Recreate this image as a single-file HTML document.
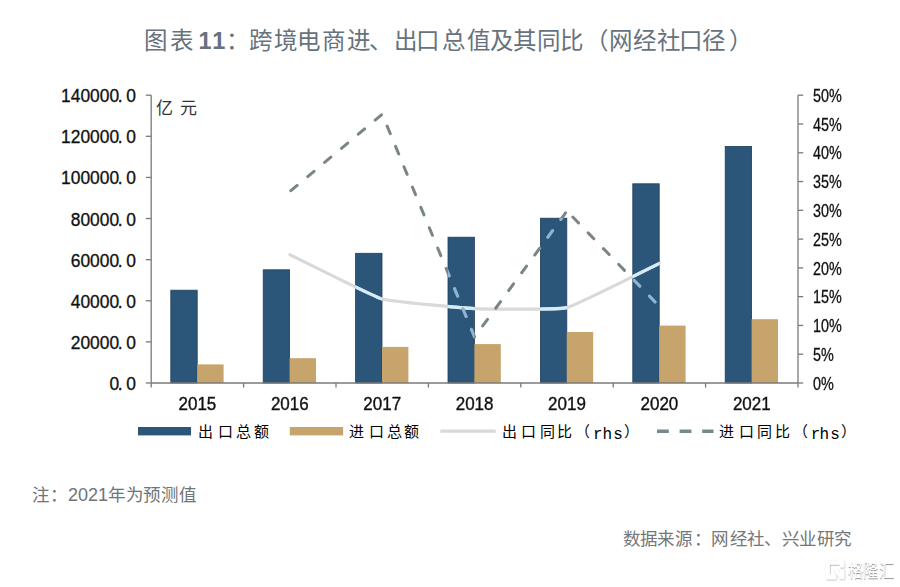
<!DOCTYPE html>
<html lang="zh-CN"><head><meta charset="utf-8"><title>chart</title>
<style>
html,body{margin:0;padding:0;background:#fff;}
body{width:900px;height:587px;position:relative;overflow:hidden;font-family:"Liberation Sans",sans-serif;}
svg{position:absolute;left:0;top:0;}
.bb{fill:#2b5679;stroke:#1e3e5e;stroke-width:0.8;}
.gb{fill:#c6a46b;}
.ax line,.ax path{stroke:#7a7a7a;stroke-width:1.3;fill:none;}
.c{display:inline-block;width:1em;text-align:center;letter-spacing:0;}
.title{position:absolute;left:0;top:25.7px;width:900px;height:30px;font-size:23.5px;line-height:normal;color:#66727d;white-space:nowrap;font-weight:500;}
.title span{position:absolute;top:0;line-height:30px;}
.wm{position:absolute;left:0;top:560px;width:900px;height:22px;font-size:18px;line-height:22px;color:#fff;font-weight:500;text-shadow:0.3px 0.5px 1px rgba(0,0,0,0.45);}
.wm span{position:absolute;top:0;width:1em;text-align:center;transform:scaleX(0.86);transform-origin:0 50%;}
.unit span,.lg span,.note span,.src span{position:absolute;top:0;white-space:nowrap;}
.ca{width:1em;text-align:center;}
.title .num{letter-spacing:1.8px;font-weight:bold;}
.yl{position:absolute;right:764px;font-size:17.4px;line-height:20px;color:#111;-webkit-text-stroke:0.3px #111;white-space:nowrap;transform:translateY(0.6px) scaleY(1.08);}
.yl .sp{margin-left:2.4px;}
.yl .dt{position:relative;left:-1.4px;}
.yr{position:absolute;left:813px;margin-top:0.7px;font-size:17.5px;line-height:20px;color:#111;-webkit-text-stroke:0.3px #111;white-space:nowrap;transform:scaleX(0.82);transform-origin:0 50%;}
.xl{position:absolute;top:395px;width:60px;text-align:center;font-size:17px;line-height:20px;color:#111;-webkit-text-stroke:0.35px #111;transform:scaleY(1.08);}
.unit{position:absolute;left:0;top:98.6px;width:300px;height:20px;font-size:17px;line-height:20px;color:#333;}
.lg{position:absolute;left:0;top:422.2px;width:900px;height:20px;font-size:15px;line-height:20px;color:#000;font-weight:500;}
.lg .m{font-size:16px;font-weight:normal;top:2.6px;}
.m{font-family:"Liberation Mono",monospace;}
.note{position:absolute;left:0;top:484.5px;width:300px;height:20px;font-size:17.5px;line-height:20px;color:#6f7478;}
.note .num{font-size:18px;}
.src{position:absolute;left:0;top:528.5px;width:900px;height:20px;font-size:17.5px;line-height:20px;color:#767676;}
</style></head>
<body>
<div class="title"><span class="ca" style="left:143.8px">图</span><span class="ca" style="left:169.6px">表</span><span class="ca" style="left:225.4px">：</span><span class="ca" style="left:248.7px">跨</span><span class="ca" style="left:273.9px">境</span><span class="ca" style="left:297.2px">电</span><span class="ca" style="left:321.9px">商</span><span class="ca" style="left:346.8px">进</span><span class="ca" style="left:368.4px">、</span><span class="ca" style="left:393.3px">出</span><span class="ca" style="left:416.0px">口</span><span class="ca" style="left:441.8px">总</span><span class="ca" style="left:466.7px">值</span><span class="ca" style="left:489.4px">及</span><span class="ca" style="left:513.1px">其</span><span class="ca" style="left:537.0px">同</span><span class="ca" style="left:559.7px">比</span><span class="ca" style="left:584.4px">（</span><span class="ca" style="left:608.3px">网</span><span class="ca" style="left:633.0px">经</span><span class="ca" style="left:656.8px">社</span><span class="ca" style="left:678.6px">口</span><span class="ca" style="left:702.1px">径</span><span class="ca" style="left:729.2px">）</span><span class="num" style="left:198.6px">11</span></div>
<svg width="900" height="587" viewBox="0 0 900 587">
<defs><clipPath id="cb"><rect x="170.80" y="290.20" width="26.40" height="92.80"/><rect x="263.20" y="269.80" width="26.40" height="113.20"/><rect x="355.60" y="253.30" width="26.40" height="129.70"/><rect x="448.00" y="237.20" width="26.40" height="145.80"/><rect x="540.40" y="218.20" width="26.40" height="164.80"/><rect x="632.80" y="183.80" width="26.40" height="199.20"/><rect x="725.20" y="146.40" width="26.40" height="236.60"/></clipPath></defs>
<rect x="170.80" y="290.20" width="26.40" height="92.80" class="bb"/>
<rect x="197.20" y="364.40" width="26.40" height="18.60" class="gb"/>
<rect x="263.20" y="269.80" width="26.40" height="113.20" class="bb"/>
<rect x="289.60" y="358.20" width="26.40" height="24.80" class="gb"/>
<rect x="355.60" y="253.30" width="26.40" height="129.70" class="bb"/>
<rect x="382.00" y="346.90" width="26.40" height="36.10" class="gb"/>
<rect x="448.00" y="237.20" width="26.40" height="145.80" class="bb"/>
<rect x="474.40" y="344.10" width="26.40" height="38.90" class="gb"/>
<rect x="540.40" y="218.20" width="26.40" height="164.80" class="bb"/>
<rect x="566.80" y="332.00" width="26.40" height="51.00" class="gb"/>
<rect x="632.80" y="183.80" width="26.40" height="199.20" class="bb"/>
<rect x="659.20" y="325.60" width="26.40" height="57.40" class="gb"/>
<rect x="725.20" y="146.40" width="26.40" height="236.60" class="bb"/>
<rect x="751.60" y="319.20" width="26.40" height="63.80" class="gb"/>
<g class="ax">
<line x1="151.20" y1="95.20" x2="151.20" y2="383.00"/>
<line x1="798.00" y1="95.20" x2="798.00" y2="383.00"/>
<line x1="151.20" y1="383.00" x2="798.00" y2="383.00"/>
<line x1="145.8" y1="383.00" x2="151.20" y2="383.00"/>
<line x1="145.8" y1="341.89" x2="151.20" y2="341.89"/>
<line x1="145.8" y1="300.77" x2="151.20" y2="300.77"/>
<line x1="145.8" y1="259.66" x2="151.20" y2="259.66"/>
<line x1="145.8" y1="218.54" x2="151.20" y2="218.54"/>
<line x1="145.8" y1="177.43" x2="151.20" y2="177.43"/>
<line x1="145.8" y1="136.31" x2="151.20" y2="136.31"/>
<line x1="145.8" y1="95.20" x2="151.20" y2="95.20"/>
<line x1="798.00" y1="383.00" x2="803.2" y2="383.00"/>
<line x1="798.00" y1="354.22" x2="803.2" y2="354.22"/>
<line x1="798.00" y1="325.44" x2="803.2" y2="325.44"/>
<line x1="798.00" y1="296.66" x2="803.2" y2="296.66"/>
<line x1="798.00" y1="267.88" x2="803.2" y2="267.88"/>
<line x1="798.00" y1="239.10" x2="803.2" y2="239.10"/>
<line x1="798.00" y1="210.32" x2="803.2" y2="210.32"/>
<line x1="798.00" y1="181.54" x2="803.2" y2="181.54"/>
<line x1="798.00" y1="152.76" x2="803.2" y2="152.76"/>
<line x1="798.00" y1="123.98" x2="803.2" y2="123.98"/>
<line x1="798.00" y1="95.20" x2="803.2" y2="95.20"/>
<line x1="151.20" y1="383.00" x2="151.20" y2="387.6"/>
<line x1="243.60" y1="383.00" x2="243.60" y2="387.6"/>
<line x1="336.00" y1="383.00" x2="336.00" y2="387.6"/>
<line x1="428.40" y1="383.00" x2="428.40" y2="387.6"/>
<line x1="520.80" y1="383.00" x2="520.80" y2="387.6"/>
<line x1="613.20" y1="383.00" x2="613.20" y2="387.6"/>
<line x1="705.60" y1="383.00" x2="705.60" y2="387.6"/>
<line x1="798.00" y1="383.00" x2="798.00" y2="387.6"/>
</g>
<path d="M289.80,254.60 C294.42,256.82 372.96,296.30 382.20,299.00 C391.44,301.70 465.36,308.27 474.60,308.70 C483.84,309.13 557.76,309.87 567.00,307.60 C576.24,305.34 654.78,265.61 659.40,263.40" fill="none" stroke="#d9d9d9" stroke-width="3.2" stroke-linecap="round"/>
<path d="M289.80,254.60 C294.42,256.82 372.96,296.30 382.20,299.00 C391.44,301.70 465.36,308.27 474.60,308.70 C483.84,309.13 557.76,309.87 567.00,307.60 C576.24,305.34 654.78,265.61 659.40,263.40" fill="none" stroke="#d3ecf8" stroke-width="3.2" clip-path="url(#cb)"/>
<g fill="none" stroke-width="3" stroke-dasharray="8.2 13.8" stroke-linecap="round">
<path d="M289.80,191.60 L382.20,114.20 L474.60,337.00 L567.00,211.00" stroke="#7a8587" stroke-dashoffset="-1.4"/>
<path d="M567.00,211.00 L659.40,306.40" stroke="#7a8587" stroke-dashoffset="13.6"/>
<g clip-path="url(#cb)" stroke="#8fb3d3"><path d="M289.80,191.60 L382.20,114.20 L474.60,337.00 L567.00,211.00" stroke-dashoffset="-1.4"/><path d="M567.00,211.00 L659.40,306.40" stroke-dashoffset="13.6"/></g>
</g>
<rect x="138" y="427" width="53" height="8.4" fill="#2b5679"/>
<rect x="289.8" y="427" width="53.3" height="8.4" fill="#c6a46b"/>
<line x1="440.3" y1="431.1" x2="495.8" y2="431.1" stroke="#d9d9d9" stroke-width="3.2"/>
<defs><filter id="ds" x="-20%" y="-20%" width="140%" height="140%"><feDropShadow dx="0.4" dy="0.6" stdDeviation="0.7" flood-color="#000" flood-opacity="0.45"/></filter></defs>
<g filter="url(#ds)" fill="#fff">
<path d="M828,560.3 H842.2 Q844.4,560.3 844.4,562.5 V567.6 H839.9 V564.8 H829.9 V574.6 H836.2 V579.6 H828 Q825.8,579.6 825.8,577.4 V562.5 Q825.8,560.3 828,560.3 Z"/>
<path d="M839.9,569.6 H844.4 V579.6 H843.2 L838.6,575.2 V574.6 H839.9 Z"/>
<path d="M833.6,569.6 H837.8 L843.6,578.6 L840.4,579.6 Z"/>
</g>
<path d="M657,431.2 H713.5" stroke="#76898c" stroke-width="3.4" stroke-dasharray="11.8 10.8"/>
</svg>
<div class="yl" style="top:373.00px">0<span class="dt">.</span><span class="sp">0</span></div>
<div class="yl" style="top:331.89px">20000<span class="dt">.</span><span class="sp">0</span></div>
<div class="yl" style="top:290.77px">40000<span class="dt">.</span><span class="sp">0</span></div>
<div class="yl" style="top:249.66px">60000<span class="dt">.</span><span class="sp">0</span></div>
<div class="yl" style="top:208.54px">80000<span class="dt">.</span><span class="sp">0</span></div>
<div class="yl" style="top:167.43px">100000<span class="dt">.</span><span class="sp">0</span></div>
<div class="yl" style="top:126.31px">120000<span class="dt">.</span><span class="sp">0</span></div>
<div class="yl" style="top:85.20px">140000<span class="dt">.</span><span class="sp">0</span></div>
<div class="yr" style="top:373.00px">0%</div>
<div class="yr" style="top:344.22px">5%</div>
<div class="yr" style="top:315.44px">10%</div>
<div class="yr" style="top:286.66px">15%</div>
<div class="yr" style="top:257.88px">20%</div>
<div class="yr" style="top:229.10px">25%</div>
<div class="yr" style="top:200.32px">30%</div>
<div class="yr" style="top:171.54px">35%</div>
<div class="yr" style="top:142.76px">40%</div>
<div class="yr" style="top:113.98px">45%</div>
<div class="yr" style="top:85.20px">50%</div>
<div class="xl" style="left:167.40px">2015</div>
<div class="xl" style="left:259.80px">2016</div>
<div class="xl" style="left:352.20px">2017</div>
<div class="xl" style="left:444.60px">2018</div>
<div class="xl" style="left:537.00px">2019</div>
<div class="xl" style="left:629.40px">2020</div>
<div class="xl" style="left:721.80px">2021</div>
<div class="unit"><span class="ca" style="left:155.9px">亿</span><span class="ca" style="left:179.7px">元</span></div>
<div class="lg"><span class="ca" style="left:197.7px">出</span><span class="ca" style="left:217.9px">口</span><span class="ca" style="left:235.9px">总</span><span class="ca" style="left:253.6px">额</span><span class="ca" style="left:349.4px">进</span><span class="ca" style="left:368.6px">口</span><span class="ca" style="left:386.7px">总</span><span class="ca" style="left:404.4px">额</span><span class="ca" style="left:502.2px">出</span><span class="ca" style="left:521.3px">口</span><span class="ca" style="left:539.5px">同</span><span class="ca" style="left:557.3px">比</span><span class="ca" style="left:574.9px">（</span><span class="m" style="left:593.0px">r</span><span class="m" style="left:602.6px">h</span><span class="m" style="left:613.2px">s</span><span class="ca" style="left:624.4px">）</span><span class="ca" style="left:719.0px">进</span><span class="ca" style="left:738.9px">口</span><span class="ca" style="left:757.3px">同</span><span class="ca" style="left:775.0px">比</span><span class="ca" style="left:792.7px">（</span><span class="m" style="left:810.8px">r</span><span class="m" style="left:819.6px">h</span><span class="m" style="left:830.2px">s</span><span class="ca" style="left:841.4px">）</span></div>
<div class="note"><span class="ca" style="left:32.0px">注</span><span class="ca" style="left:49.6px">：</span><span class="num" style="left:67.9px">2021</span><span class="ca" style="left:107.4px">年</span><span class="ca" style="left:125.7px">为</span><span class="ca" style="left:142.9px">预</span><span class="ca" style="left:160.7px">测</span><span class="ca" style="left:179.0px">值</span></div>
<div class="src"><span class="ca" style="left:622.3px">数</span><span class="ca" style="left:639.7px">据</span><span class="ca" style="left:657.1px">来</span><span class="ca" style="left:674.4px">源</span><span class="ca" style="left:693.6px">：</span><span class="ca" style="left:710.9px">网</span><span class="ca" style="left:729.3px">经</span><span class="ca" style="left:746.4px">社</span><span class="ca" style="left:763.4px">、</span><span class="ca" style="left:781.8px">兴</span><span class="ca" style="left:799.1px">业</span><span class="ca" style="left:816.5px">研</span><span class="ca" style="left:833.9px">究</span></div>
<div class="wm"><span style="left:847.6px">格</span><span style="left:863.2px">隆</span><span style="left:878.8px">汇</span></div>
</body></html>
